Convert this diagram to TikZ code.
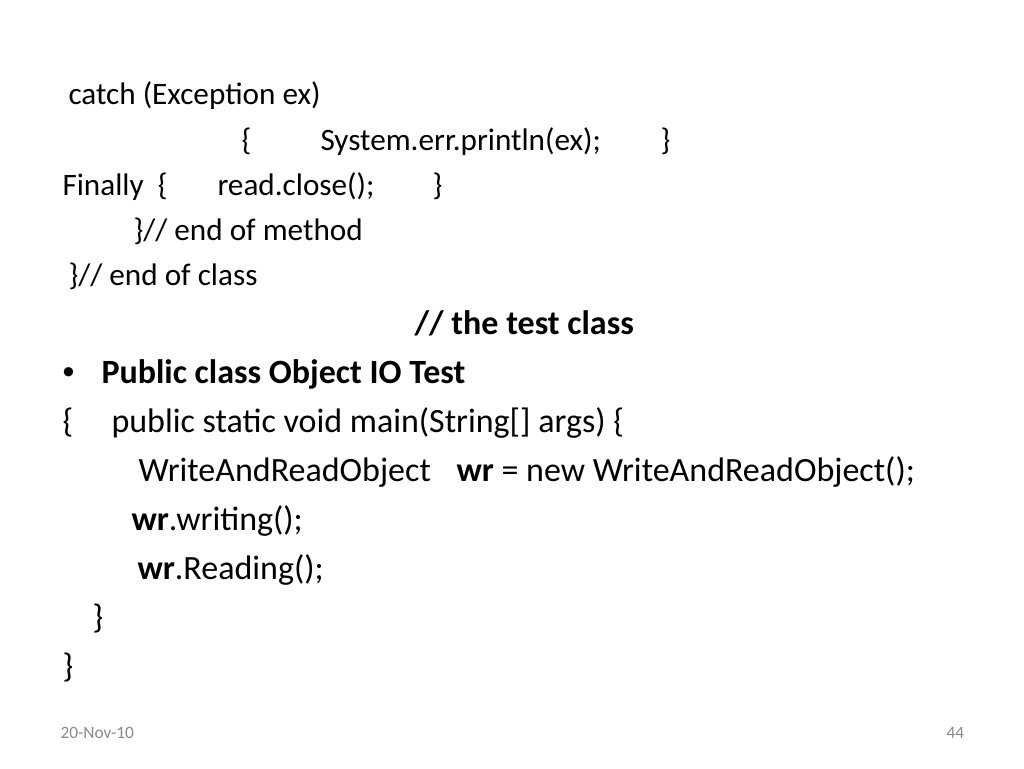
\documentclass[tikz,border=0pt]{standalone}
\usepackage{fontspec}
\setmainfont{Carlito}
\newfontfamily\bulletfont{Liberation Sans}
\tikzset{every picture/.style={line width=0.75pt}}

\begin{document}
\begin{tikzpicture}[x=0.75pt,y=0.75pt,yscale=-1,xscale=1,
  codetxt/.style={anchor=base west,inner sep=0pt,font=\fontsize{23.4}{28}\selectfont},
  maintxt/.style={anchor=base west,inner sep=0pt,font=\fontsize{25.5}{30}\selectfont},
  foottxt/.style={anchor=base west,inner sep=0pt,text={rgb,255:red,137;green,137;blue,137},font=\fontsize{13}{15}\selectfont}]
%set diagram size to the slide: 1024 x 768
\path (0,0) rectangle (1024,768);

% Text Node
\draw (68,104) node [codetxt] (catchln) {catch (Exception ex)};
% Text Node
\draw (241,150) node [codetxt] (openerr) {\{};
% Text Node
\draw (320,150) node [codetxt] (printerr) {System.err.println(ex);};
% Text Node
\draw (660,150) node [codetxt] (closeerr) {\}};
% Text Node
\draw (62,195) node [codetxt] (finallyln) {Finally\ \ \{};
% Text Node
\draw (217,195) node [codetxt] (readclose) {read.close();};
% Text Node
\draw (432,195) node [codetxt] (closefin) {\}};
% Text Node
\draw (133,240) node [codetxt] (endmethod) {\}// end of method};
% Text Node
\draw (68,285) node [codetxt] (endclass) {\}// end of class};
% Text Node
\draw (414,334) node [maintxt,font=\fontsize{25.5}{30}\selectfont\bfseries] (testtitle) {// the test class};
% Text Node
\draw (62,383) node [maintxt,font=\fontsize{25.5}{30}\bulletfont] (bullet) {•};
% Text Node
\draw (101,383) node [maintxt,font=\fontsize{25.5}{30}\selectfont\bfseries] (classdecl) {Public class Object IO Test};
% Text Node
\draw (62,432) node [maintxt] (openclass) {\{};
% Text Node
\draw (111,432) node [maintxt] (mainln) {public static void main(String[] args) \{};
% Text Node
\draw (138,481) node [maintxt] (wrtype) {WriteAndReadObject};
% Text Node
\draw (456,481) node [maintxt] (wrnew) {\textbf{wr} = new WriteAndReadObject();};
% Text Node
\draw (131,530) node [maintxt] (wrwrite) {\textbf{wr}.writing();};
% Text Node
\draw (137,579) node [maintxt] (wrread) {\textbf{wr}.Reading();};
% Text Node
\draw (92,628) node [maintxt] (closemain) {\}};
% Text Node
\draw (62,677) node [maintxt] (closeclass) {\}};

% Text Node
\draw (60,738) node [foottxt] (datetxt) {20-Nov-10};
% Text Node
\draw (946,738) node [foottxt] (pagenum) {44};

\end{tikzpicture}
\end{document}
